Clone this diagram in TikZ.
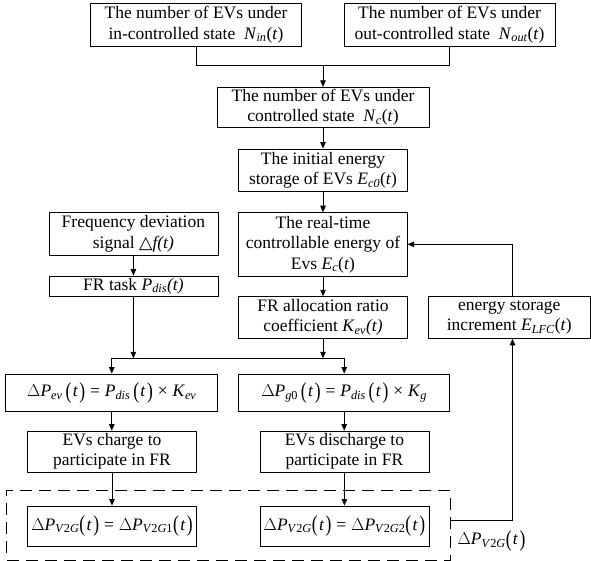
\documentclass[tikz,border=0pt]{standalone}
\usepackage{fontspec}
\setmainfont{Liberation Serif}
\newfontfamily\symfont{DejaVu Sans}
\usepackage{graphicx}
\usetikzlibrary{arrows.meta,calc}

% italic variable, italic subscript, tall parentheses
\newcommand\V[1]{\textit{#1}}
\newcommand\Sb[1]{\textsubscript{\itshape #1}}
\newcommand\Lp{\raisebox{-0.1em}{\scalebox{1}[1.3]{(}}}
\newcommand\Rp{\raisebox{-0.1em}{\scalebox{1}[1.3]{)}}}
\newcommand\Dt{\Lp\kern0.08em\V{t}\kern0.08em\Rp}
\newcommand\sDt{\,\Dt}
\newcommand\Eq{\kern0.28em=\kern0.28em}
\newcommand\Tm{\kern0.28em×\kern0.28em}
\newcommand\VtoG[1]{\textsubscript{\textit{V}2\textit{G}#1}}

\begin{document}
\begin{tikzpicture}[x=1pt,y=-1pt,
  font=\fontsize{17.5}{20.5}\selectfont,
  box/.style={draw, line width=0.8pt, inner sep=0pt, align=center},
  link/.style={line width=0.8pt},
  arr/.style={line width=0.8pt, -{Triangle[length=6.5pt,width=5.5pt]}},
  grpbox/.style={draw, line width=0.8pt, dash pattern=on 12pt off 7pt, inner sep=0pt}
]
\useasboundingbox (0,0) rectangle (591,561);

% top row
\node[box, minimum width=211pt, minimum height=42.7pt] (A) at (196,24.7)
  {The number of EVs under\\in-controlled state\ \ \V{N}\Sb{in}(\V{t})};
\node[box, minimum width=211pt, minimum height=42.7pt] (B) at (449.5,24.7)
  {The number of EVs under\\out-controlled state\ \ \V{N}\Sb{out}(\V{t})};

% central column
\node[box, minimum width=212pt, minimum height=40pt] (C) at (323,107.3)
  {The number of EVs under\\controlled state\ \ \V{N}\Sb{c}(\V{t})};
\node[box, minimum width=168.5pt, minimum height=42.7pt] (D) at (323,170.3)
  {The initial energy\\storage of EVs \V{E}\Sb{c0}(\V{t})};
\node[box, minimum width=168.5pt, minimum height=63.3pt] (E) at (323,244.3)
  {The real-time\\controllable energy of\\Evs \V{E}\Sb{c}(\V{t})};
\node[box, minimum width=168.5pt, minimum height=41.7pt] (H) at (323,317.5)
  {FR allocation ratio\\coefficient \V{K}\Sb{ev}\V{(t)}};

% left column
\node[box, minimum width=169pt, minimum height=42.3pt] (F) at (133.4,233.8)
  {Frequency deviation\\signal {\symfont △}\V{f(t)}};
\node[box, minimum width=169pt, minimum height=20pt] (G) at (133.4,286)
  {FR task \V{P}\Sb{dis}\V{(t)}};

% right column
\node[box, minimum width=161.5pt, minimum height=41.7pt] (I) at (509.3,317.5)
  {energy storage\\increment \V{E}\Sb{LFC}(\V{t})};

% power split
\node[box, minimum width=212pt, minimum height=37.7pt] (J) at (111.8,392.8)
  {$\Delta$\V{P}\Sb{ev}\sDt\Eq\V{P}\Sb{dis}\sDt\Tm\V{K}\Sb{ev}};
\node[box, minimum width=211pt, minimum height=37.7pt] (K) at (344.2,392.8)
  {$\Delta$\V{P}\textsubscript{\textit{g}0}\sDt\Eq\V{P}\Sb{dis}\sDt\Tm\V{K}\Sb{g}};
\node[box, minimum width=169.3pt, minimum height=41pt] (L) at (112,451.5)
  {EVs charge to\\participate in FR};
\node[box, minimum width=169pt, minimum height=41pt] (M) at (344.4,451.5)
  {EVs discharge to\\participate in FR};

% V2G group
\node[grpbox, minimum width=443.6pt, minimum height=69.3pt] (grp) at (228.6,525.35) {};
\node[box, minimum width=169.3pt, minimum height=40.7pt] (N) at (112,526.3)
  {$\Delta$\V{P}\VtoG{}\Dt\Eq$\Delta$\V{P}\VtoG{1}\Dt};
\node[box, minimum width=169pt, minimum height=40.7pt] (O) at (344.4,526.3)
  {$\Delta$\V{P}\VtoG{}\Dt\Eq$\Delta$\V{P}\VtoG{2}\Dt};
\node[inner sep=0pt] (lbl) at (491.5,540.7) {$\Delta$\V{P}\VtoG{}\Dt};

% junction points
\coordinate (j1) at (323,65);
\coordinate (j2) at (0,358.3);
\coordinate (fb) at (512.5,0);
\coordinate (fy) at (0,520.7);

% connectors
\draw[link] (A.south) -- (A.south |- j1) -- (B.south |- j1) -- (B.south);
\draw[arr] (j1) -- (C.north);
\draw[arr] (C.south) -- (D.north);
\draw[arr] (D.south) -- (E.north);
\draw[arr] (E.south) -- (H.north);
\draw[arr] (F.south) -- (G.north);
\draw[link] (J.north |- j2) -- (K.north |- j2);
\draw[arr] (G.south) -- (G.south |- j2);
\draw[arr] (H.south) -- (H.south |- j2);
\draw[arr] (J.north |- j2) -- (J.north);
\draw[arr] (K.north |- j2) -- (K.north);
\draw[arr] (J.south) -- (J.south |- L.north);
\draw[arr] (K.south) -- (K.south |- M.north);
\draw[arr] (L.south) -- (L.south |- N.north);
\draw[arr] (M.south) -- (M.south |- O.north);
\draw[arr] (grp.east |- fy) -- (fb |- fy) -- (fb |- I.south);
\draw[arr] (fb |- I.north) -- (fb |- E.east) -- (E.east);
\end{tikzpicture}
\end{document}
